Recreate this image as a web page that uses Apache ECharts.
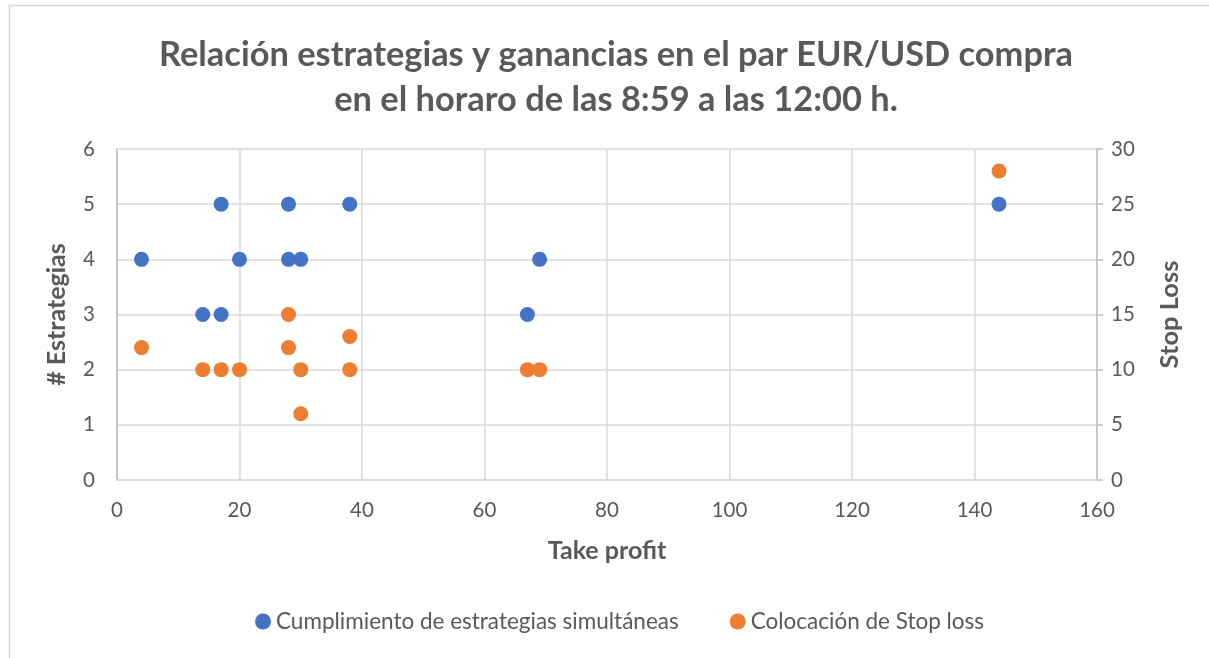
<!DOCTYPE html>
<html>
<head>
<meta charset="utf-8">
<script src="https://cdn.jsdelivr.net/npm/echarts@6/dist/echarts.min.js"></script>
<style>
  html, body { margin: 0; padding: 0; background: #fff; }
  #chart { width: 1209px; height: 658px; }
</style>
</head>
<body>
<div id="chart"></div>
<script>
// datos
const tpEstrategias = [4, 14, 17, 17, 20, 28, 28, 30, 38, 67, 69, 144];
const numEstrategias = [4, 3, 5, 3, 4, 5, 4, 4, 5, 3, 4, 5];
const tpStopLoss = [4, 14, 17, 20, 28, 28, 30, 30, 38, 38, 67, 69, 144];
const stopLoss = [12, 10, 10, 10, 15, 12, 10, 6, 13, 10, 10, 10, 28];

const font = 'Lato, "Open Sans", sans-serif';
const textColor = '#595959';
const gridColor = '#d9d9d9';

const chart = echarts.init(document.getElementById('chart'));

chart.setOption({
  animation: false,
  backgroundColor: '#fff',
  textStyle: { fontFamily: font },
  title: {
    text: 'Relación estrategias y ganancias en el par EUR/USD compra\nen el horaro de las 8:59 a las 12:00 h.',
    left: 611,
    textAlign: 'center',
    top: 27,
    textStyle: { fontFamily: font, fontSize: 34.4, fontWeight: 'bold', color: textColor, lineHeight: 45, align: 'center' }
  },
  graphic: [{
    type: 'rect',
    shape: { x: 9.5, y: 5.5, width: 1220, height: 680 },
    style: { fill: 'none', stroke: gridColor, lineWidth: 1.5 },
    silent: true
  }],
  legend: {
    top: 605,
    left: 250,
    itemGap: 51,
    itemWidth: 16,
    itemHeight: 16,
    icon: 'circle',
    textStyle: { fontFamily: font, fontSize: 22.5, color: textColor },
    data: ['Cumplimiento de estrategias simultáneas', 'Colocación de Stop loss']
  },
  grid: { left: 117, right: 112, top: 149, bottom: 178 },
  xAxis: {
    type: 'value',
    min: 0, max: 160, interval: 20,
    name: 'Take profit',
    nameLocation: 'middle',
    nameGap: 58,
    nameTextStyle: { fontFamily: font, fontSize: 25, fontWeight: 'bold', color: textColor },
    axisLine: { show: true, lineStyle: { color: gridColor, width: 1.5 } },
    axisTick: { show: false },
    axisLabel: { fontSize: 20.5, color: textColor, margin: 20 },
    splitLine: { show: true, lineStyle: { color: gridColor, width: 1.5 } }
  },
  yAxis: [{
    type: 'value',
    min: 0, max: 6, interval: 1,
    name: '# Estrategias',
    nameLocation: 'middle',
    nameGap: 48,
    nameRotate: 90,
    nameTextStyle: { fontFamily: font, fontSize: 25, fontWeight: 'bold', color: textColor },
    axisLine: { show: true, lineStyle: { color: '#bfbfbf', width: 1.5 } },
    axisTick: { show: false },
    axisLabel: { fontSize: 20.5, color: textColor, margin: 22 },
    splitLine: { show: true, lineStyle: { color: gridColor, width: 1.5 } }
  }, {
    type: 'value',
    position: 'right',
    min: 0, max: 30, interval: 5,
    name: 'Stop Loss',
    nameLocation: 'middle',
    nameGap: 60,
    nameRotate: 90,
    nameTextStyle: { fontFamily: font, fontSize: 25.5, fontWeight: 'bold', color: textColor },
    axisLine: { show: true, lineStyle: { color: '#bfbfbf', width: 1.5 } },
    axisTick: { show: true, inside: false, length: 6, lineStyle: { color: '#bfbfbf', width: 1.5 } },
    axisLabel: { fontSize: 20.5, color: textColor, margin: 14 },
    splitLine: { show: false }
  }],
  series: [{
    name: 'Cumplimiento de estrategias simultáneas',
    type: 'scatter',
    yAxisIndex: 0,
    symbolSize: 15,
    itemStyle: { color: '#4472c4', opacity: 1 },
    data: tpEstrategias.map((x, i) => [x, numEstrategias[i]])
  }, {
    name: 'Colocación de Stop loss',
    type: 'scatter',
    yAxisIndex: 1,
    symbolSize: 15,
    itemStyle: { color: '#ed7d31', opacity: 1 },
    data: tpStopLoss.map((x, i) => [x, stopLoss[i]])
  }]
});
</script>
</body>
</html>
